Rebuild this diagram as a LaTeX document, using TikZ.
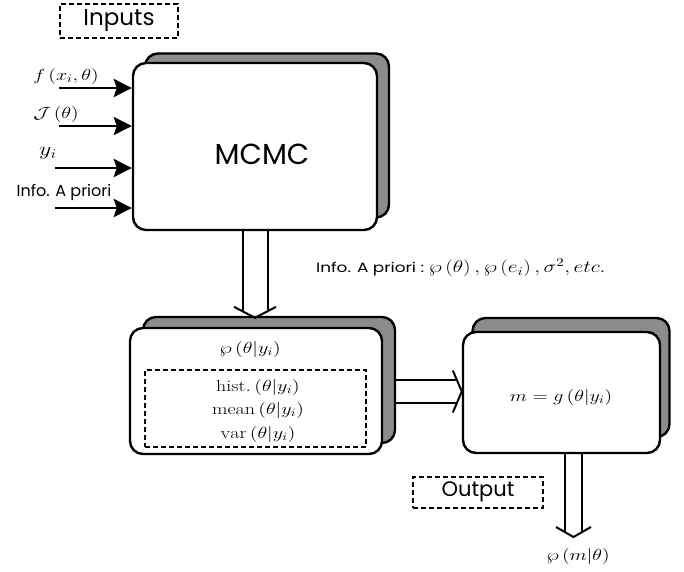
\RequirePackage{fix-cm}
\documentclass[tikz,border=0pt]{standalone}
\usepackage{fontspec}
\usepackage{graphicx}
\setsansfont{Poppins}
\usetikzlibrary{arrows.meta,calc}
\newcommand\wx[1]{\scalebox{1.25}[1]{#1}}
\begin{document}
\begin{tikzpicture}[x=1pt,y=-1pt,
  frontbox/.style={draw=black,line width=2.4pt,fill=white,rounded corners=13pt,inner sep=0pt},
  shadowbox/.style={draw=black,line width=2.4pt,fill=black!45,rounded corners=13pt,inner sep=0pt},
  dashbox/.style={draw=black,line width=2pt,dash pattern=on 5pt off 3pt,inner sep=0pt},
  inarrow/.style={line width=2.8pt,-{Stealth[length=18pt,width=18pt,inset=3pt]}},
  hollow/.style={line width=2pt},
  sanslabel/.style={font=\sffamily\fontsize{17}{20}\selectfont,inner sep=0pt},
  mathlabel/.style={font=\fontsize{16}{19}\selectfont,inner sep=0pt}]
\useasboundingbox (0,0) rectangle (684,571);

% Inputs
\node[dashbox,minimum width=118pt,minimum height=34pt] (inbox) at (119,21) {};
\node[sanslabel,font=\sffamily\fontsize{23}{26}\selectfont] (intext) at (119,20) {Inputs};

% MCMC box
\node[shadowbox,minimum width=244pt,minimum height=164pt] (mcmcS) at (267,135.5) {};
\node[frontbox,minimum width=244pt,minimum height=167pt] (mcmc) at (255,146.5) {};
\node[font=\sffamily\fontsize{29}{32}\selectfont,inner sep=0pt] (mcmct) at (262,154) {MCMC};

% input arrows
\coordinate (in1) at (59,88);
\coordinate (in2) at (59,126);
\coordinate (in3) at (55,168);
\coordinate (in4) at (55,208);
\draw[inarrow] (in1) -- (in1 -| mcmc.west);
\draw[inarrow] (in2) -- (in2 -| mcmc.west);
\draw[inarrow] (in3) -- (in3 -| mcmc.west);
\draw[inarrow] (in4) -- (in4 -| mcmc.west);
\node[mathlabel] (l1) at (66,76) {\wx{$f\left(x_i,\theta\right)$}};
\node[mathlabel] (l2) at (56,114) {\wx{$\mathcal{J}\left(\theta\right)$}};
\node[mathlabel,font=\fontsize{19}{22}\selectfont] (l3) at (48,153) {\wx{$y_i$}};
\node[sanslabel,font=\sffamily\fontsize{16}{19}\selectfont] (l4) at (64,192) {Info. A priori};

% info line
\node[anchor=west,inner sep=0pt] (info) at (316,268)
  {\wx{\sffamily\fontsize{13.5}{16}\selectfont Info. A priori :\ \normalfont\fontsize{17}{20}\selectfont $\wp\left(\theta\right),\wp\left(e_i\right),\sigma^2,etc.$}};

% posterior box
\node[shadowbox,minimum width=252pt,minimum height=126pt] (postS) at (269,380) {};
\node[frontbox,minimum width=252pt,minimum height=126pt] (post) at (256,391) {};
\node[mathlabel] (pt) at (250,349) {\wx{$\wp\left(\theta|y_i\right)$}};
\node[dashbox,minimum width=221pt,minimum height=77pt] (stats) at (255.5,408.5) {};
\node[mathlabel] (s1) at (258,387) {\wx{$\mathrm{hist.}\left(\theta|y_i\right)$}};
\node[mathlabel] (s2) at (258,410) {\wx{$\mathrm{mean}\left(\theta|y_i\right)$}};
\node[mathlabel] (s3) at (258,434) {\wx{$\mathrm{var}\left(\theta|y_i\right)$}};

% model box
\node[shadowbox,minimum width=197pt,minimum height=119pt] (modS) at (571,377.5) {};
\node[frontbox,minimum width=197pt,minimum height=121pt] (mod) at (561.5,392.5) {};
\node[mathlabel] (mt) at (561,397) {\wx{$m=g\left(\theta|y_i\right)$}};

% output
\node[dashbox,minimum width=130pt,minimum height=31pt] (outbox) at (478,492.5) {};
\node[sanslabel,font=\sffamily\fontsize{21}{24}\selectfont] (outtext) at (478,492) {Output};
\node[mathlabel] (res) at (578,556) {\wx{$\wp\left(m|\theta\right)$}};

% hollow arrow MCMC -> posterior
\coordinate (va) at ($(mcmc.south |- postS.north)+(0,2)$);
\draw[hollow] ([xshift=-12.5pt]mcmc.south) -- ($(va)+(-12.5,-6.5)$);
\draw[hollow] ([xshift=12.5pt]mcmc.south) -- ($(va)+(12.5,-6.5)$);
\draw[hollow,line join=miter] ($(va)+(-21,-11)$) -- (va) -- ($(va)+(21,-11)$);

% hollow arrow posterior -> model
\coordinate (ha) at (mod.west |- 0,391.5);
\draw[hollow] (postS.east |- 0,380) -- ($(ha)+(-5,-11.5)$);
\draw[hollow] (postS.east |- 0,403) -- ($(ha)+(-5,11.5)$);
\draw[hollow,line join=miter] ($(ha)+(-9,-21)$) -- (ha) -- ($(ha)+(-9,21)$);

% hollow arrow model -> output
\coordinate (oa) at (573.5,537);
\draw[hollow] ([xshift=-8.5pt]mod.south -| oa) -- ($(oa)+(-8.5,-5)$);
\draw[hollow] ([xshift=8.5pt]mod.south -| oa) -- ($(oa)+(8.5,-5)$);
\draw[hollow,line join=miter] ($(oa)+(-17.5,-10)$) -- (oa) -- ($(oa)+(17.5,-10)$);
\end{tikzpicture}
\end{document}
